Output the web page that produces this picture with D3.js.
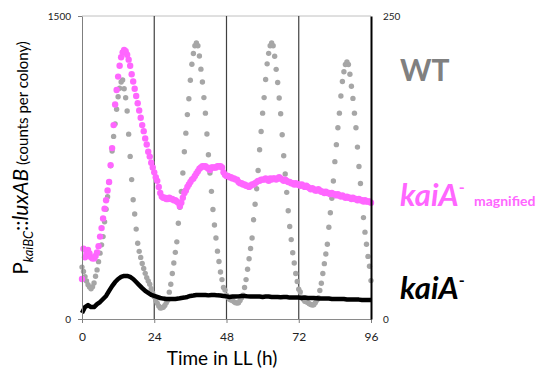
<!DOCTYPE html>
<html>
<head>
<meta charset="utf-8">
<script src="https://cdn.jsdelivr.net/npm/d3@7"></script>
<style>
  body { margin: 0; background: #fff; }
  svg { display: block; }
  text { font-family: Lato, "Open Sans", sans-serif; }
</style>
</head>
<body>
<svg id="chart" width="544" height="371"></svg>
<script>
// WT bioluminescence, one value every 0.5 h (left axis, counts per colony)
const wt = [
  257, 235, 210, 188, 170, 158, 150, 160, 178, 212, 243, 284, 326, 367, 408, 481, 543, 605, 677, 759, 832, 904, 966, 1038,
  1100, 1142, 1173, 1183, 1140, 1095, 1030, 915, 805, 690, 590, 520, 445, 375, 335, 305, 275, 250, 226, 205, 188, 172, 150, 128,
  110, 92, 78, 64, 54, 56, 58, 67, 80, 93, 133, 172, 225, 277, 330, 382, 474, 553, 631, 723, 828, 920, 1012, 1090,
  1182, 1261, 1314, 1353, 1366, 1353, 1302, 1237, 1173, 1096, 1019, 916, 813, 723, 632, 542, 465, 401, 336, 285, 233, 195, 156, 143,
  118, 107, 98, 94, 92, 85, 81, 79, 80, 92, 105, 118, 156, 195, 246, 298, 349, 401, 491, 568, 645, 735, 838, 928,
  1019, 1096, 1186, 1263, 1315, 1353, 1366, 1353, 1301, 1236, 1171, 1094, 1016, 912, 808, 718, 627, 536, 458, 393, 328, 277, 225, 186,
  147, 134, 108, 98, 88, 85, 82, 76, 72, 69, 70, 81, 93, 105, 141, 177, 225, 274, 322, 370, 454, 526, 598, 683,
  779, 863, 947, 1019, 1104, 1176, 1224, 1260, 1272, 1260, 1212, 1152, 1092, 1019, 947, 851, 755, 671, 586, 502, 430, 370, 310, 261,
  190
];

// kaiA- magnified, one value every 0.5 h (right axis)
const kaiAMag = [
  33, 58, 51, 54, 57, 54, 51, 50, 50, 52, 55, 60, 68, 75, 83, 91, 98, 106, 113, 127, 141, 160, 177, 189,
  200, 209, 216, 220, 222, 221, 218, 214, 209, 202, 196, 190, 184, 178, 172, 166, 160, 155, 149, 144, 138, 134, 129, 125,
  121, 117, 114, 109, 104, 101, 100, 100, 99, 99, 100, 99, 99, 98, 98, 97, 96, 93, 96, 100, 104, 106, 109, 111,
  113, 115, 116, 118, 120, 122, 124, 125, 126, 126, 126, 125, 124, 123, 125, 125, 125, 125, 126, 126, 126, 125, 121, 119,
  118, 118, 117, 117, 116, 116, 115, 115, 113, 112, 112, 111, 111, 110, 110, 109, 110, 111, 111, 112, 113, 114, 114, 115,
  115, 115, 116, 115, 114, 116, 115, 116, 116, 115, 116, 117, 116, 115, 114, 115, 114, 113, 113, 112, 112, 111, 112, 111,
  111, 110, 111, 110, 109, 110, 109, 108, 107, 108, 107, 106, 106, 107, 106, 105, 105, 104, 105, 104, 104, 103, 104, 103,
  103, 102, 103, 102, 101, 102, 101, 100, 101, 100, 100, 99, 100, 99, 99, 98, 99, 98, 98, 97, 98, 97, 97, 97,
  96
];

// kaiA-, one value every hour (left axis)
const kaiA = [
  30, 59, 69, 59, 59, 74, 84, 99, 114, 139, 163, 183, 198, 208, 213, 213, 208, 198, 183, 168, 153, 139, 129, 119,
  114, 109, 104, 101, 99, 99, 99, 99, 101, 104, 106, 109, 114, 116, 119, 119, 119, 119, 117, 119, 119, 117, 116, 114,
  112, 109, 111, 111, 112, 114, 114, 112, 111, 112, 111, 111, 109, 111, 111, 109, 109, 109, 108, 109, 109, 106, 106, 106,
  106, 104, 106, 104, 104, 104, 103, 101, 101, 101, 101, 99, 99, 99, 99, 99, 97, 97, 96, 96, 96, 94, 94, 94, 94
];

const xTicks = [0, 24, 48, 72, 96];
const gridHours = [24, 48, 72];
const leftTicks = [0, 1500];
const rightTicks = [0, 250];

const svg = d3.select('#chart');

const x = d3.scaleLinear().domain([0, 96]).range([82, 371]);
const yL = d3.scaleLinear().domain([0, 1500]).range([319, 16]);
const yR = d3.scaleLinear().domain([0, 250]).range([319, 16]);

// top border
svg.append('line')
  .attr('x1', x(0)).attr('x2', x(96))
  .attr('y1', yL(1500)).attr('y2', yL(1500))
  .attr('stroke', '#c0c0c0').attr('stroke-width', 1);

// vertical lines every 24 h
svg.selectAll('.grid')
  .data(gridHours)
  .enter().append('line')
  .attr('class', 'grid')
  .attr('x1', d => x(d)).attr('x2', d => x(d))
  .attr('y1', yL(1500)).attr('y2', yL(0))
  .attr('stroke', '#404040').attr('stroke-width', 1.2);

// WT dots
svg.append('g').selectAll('circle')
  .data(wt)
  .enter().append('circle')
  .attr('cx', (d, i) => x(i / 2))
  .attr('cy', d => yL(d))
  .attr('r', 2.7)
  .attr('fill', '#a6a6a6');

// kaiA- line
const line = d3.line()
  .x((d, i) => x(i))
  .y(d => yL(d));

svg.append('path')
  .datum(kaiA)
  .attr('d', line)
  .attr('fill', 'none')
  .attr('stroke', '#000')
  .attr('stroke-width', 4.5)
  .attr('stroke-linejoin', 'round');

// kaiA- magnified dots
svg.append('g').selectAll('circle')
  .data(kaiAMag)
  .enter().append('circle')
  .attr('cx', (d, i) => x(i / 2))
  .attr('cy', d => yR(d))
  .attr('r', 3.2)
  .attr('fill', '#ff66ff');

// axes
const leftAxis = svg.append('g')
  .attr('transform', `translate(${x(0)},0)`)
  .call(d3.axisLeft(yL).tickValues(leftTicks).tickFormat(d3.format('d'))
    .tickSize(4).tickSizeOuter(0).tickPadding(7));
leftAxis.select('.domain').attr('stroke', '#7f7f7f');
leftAxis.selectAll('.tick line').attr('stroke', '#7f7f7f');
leftAxis.selectAll('text').style('font-size', '10px').attr('fill', '#222');

const bottomAxis = svg.append('g')
  .attr('transform', `translate(0,${yL(0)})`)
  .call(d3.axisBottom(x).tickValues(xTicks).tickSize(4).tickSizeOuter(0).tickPadding(9));
bottomAxis.select('.domain').attr('stroke', '#8a8a8a');
bottomAxis.selectAll('.tick line').attr('stroke', '#7f7f7f');
bottomAxis.selectAll('text').style('font-size', '12px').attr('fill', '#222');

const rightAxis = svg.append('g')
  .attr('transform', `translate(${x(96)},0)`)
  .call(d3.axisRight(yR).tickValues(rightTicks).tickSize(0).tickSizeOuter(0).tickPadding(12));
rightAxis.select('.domain').attr('stroke', '#000').attr('stroke-width', 2);
rightAxis.selectAll('text').style('font-size', '10px').attr('fill', '#222');

// x title
svg.append('text')
  .attr('x', 222).attr('y', 365)
  .attr('text-anchor', 'middle')
  .style('font-size', '19px')
  .text('Time in LL (h)');

// y title
const yTitle = svg.append('text')
  .attr('transform', 'translate(28,158) rotate(-90)')
  .attr('text-anchor', 'middle');
yTitle.append('tspan').style('font-size', '21px').text('P');
yTitle.append('tspan').style('font-size', '13px').style('font-style', 'italic').attr('dy', 5).text('kaiBC');
yTitle.append('tspan').style('font-size', '21px').attr('dy', -5).text('::');
yTitle.append('tspan').style('font-size', '21px').style('font-style', 'italic').text('luxAB');
yTitle.append('tspan').style('font-size', '15px').text(' (counts per colony)');

// series labels
svg.append('text')
  .attr('x', 400).attr('y', 81)
  .style('font-size', '30px').style('font-weight', 'bold')
  .attr('fill', '#808080')
  .text('WT');

const magLabel = svg.append('text')
  .attr('x', 400).attr('y', 206)
  .attr('fill', '#ff66ff')
  .style('font-weight', 'bold');
magLabel.append('tspan').style('font-size', '31px').style('font-style', 'italic').text('kaiA');
magLabel.append('tspan').style('font-size', '16px').attr('dy', -13).text('-');
magLabel.append('tspan').style('font-size', '14px').attr('x', 474).attr('dy', 13).text('magnified');

const blackLabel = svg.append('text')
  .attr('x', 400).attr('y', 299)
  .attr('fill', '#000')
  .style('font-weight', 'bold');
blackLabel.append('tspan').style('font-size', '31px').style('font-style', 'italic').text('kaiA');
blackLabel.append('tspan').style('font-size', '16px').attr('dy', -13).text('-');
</script>
</body>
</html>
